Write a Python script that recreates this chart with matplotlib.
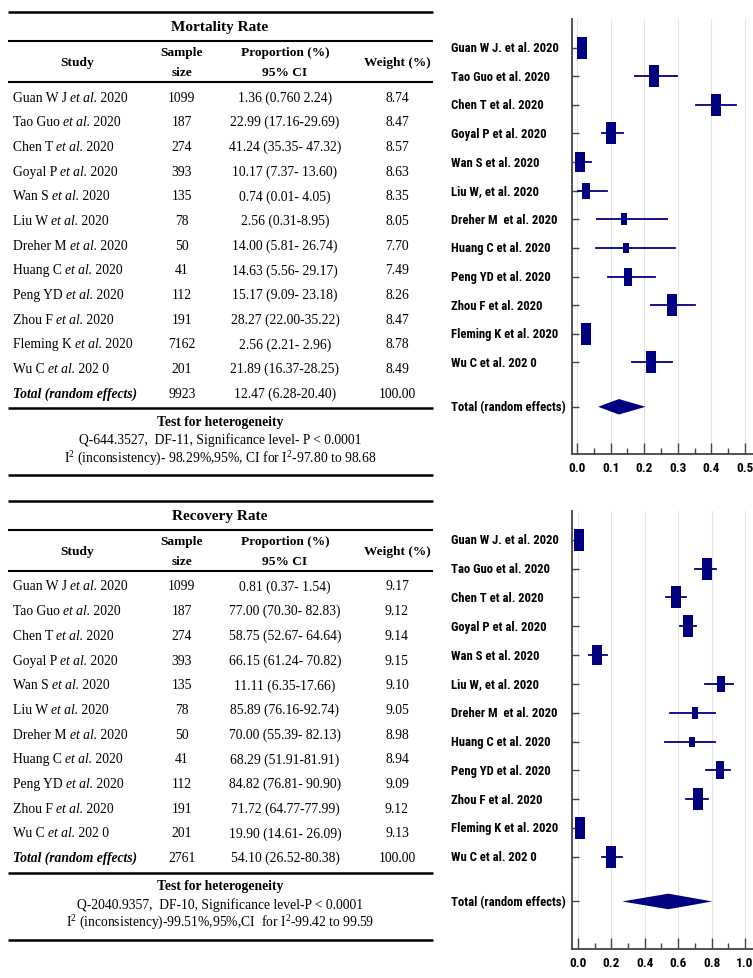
import matplotlib
matplotlib.use('Agg')
import matplotlib.pyplot as plt
import matplotlib.font_manager as fm
from matplotlib.path import Path
from matplotlib.ticker import MultipleLocator, FormatStrFormatter
import numpy as np

plt.rcParams['mathtext.fontset'] = 'custom'
plt.rcParams['mathtext.rm'] = 'Liberation Serif'
plt.rcParams['mathtext.it'] = 'Liberation Serif:italic'
plt.rcParams['mathtext.bf'] = 'Liberation Serif:bold'

SERIF = 'Liberation Serif'
NAVY = '#000080'
SPINE = '#444444'

# ---- study data ----
authors = ['Guan W J', 'Tao Guo', 'Chen T', 'Goyal P', 'Wan S', 'Liu W',
           'Dreher M', 'Huang C', 'Peng YD', 'Zhou F', 'Fleming K', 'Wu C']
years = ['2020'] * 11 + ['202 0']
plot_labels = ['Guan W J. et al. 2020', 'Tao Guo et al. 2020', 'Chen T et al. 2020',
               'Goyal P et al. 2020', 'Wan S et al. 2020', 'Liu W, et al. 2020',
               'Dreher M  et al. 2020', 'Huang C et al. 2020', 'Peng YD et al. 2020',
               'Zhou F et al. 2020', 'Fleming K et al. 2020', 'Wu C et al. 202 0']
total_label = 'Total (random effects)'

# mortality
mort_n = [1099, 187, 274, 393, 135, 78, 50, 41, 112, 191, 7162, 201]
mort_prop = [1.36, 22.99, 41.24, 10.17, 0.74, 2.56, 14.00, 14.63, 15.17, 28.27, 2.56, 21.89]
mort_lo = [0.760, 17.16, 35.35, 7.37, 0.01, 0.31, 5.81, 5.56, 9.09, 22.00, 2.21, 16.37]
mort_hi = [2.24, 29.69, 47.32, 13.60, 4.05, 8.95, 26.74, 29.17, 23.18, 35.22, 2.96, 28.25]
mort_ci_txt = ['1.36 (0.760 2.24)', '22.99 (17.16-29.69)', '41.24 (35.35- 47.32)',
               '10.17 (7.37- 13.60)', '0.74 (0.01- 4.05)', '2.56 (0.31-8.95)',
               '14.00 (5.81- 26.74)', '14.63 (5.56- 29.17)', '15.17 (9.09- 23.18)',
               '28.27 (22.00-35.22)', '2.56 (2.21- 2.96)', '21.89 (16.37-28.25)']
mort_weight = ['8.74', '8.47', '8.57', '8.63', '8.35', '8.05', '7.70', '7.49',
               '8.26', '8.47', '8.78', '8.49']
mort_total = (9923, 12.47, 6.28, 20.40, '12.47 (6.28-20.40)', '100.00')
mort_het = ['Q-644.3527,  DF-11, Significance level- P < 0.0001',
            r'I$^2$ (inconsistency)- 98.29%,95%, CI for I$^2$-97.80 to 98.68']

# recovery (Fleming K is only in the forest plot)
rec_n = [1099, 187, 274, 393, 135, 78, 50, 41, 112, 191, 201]
rec_prop = [0.81, 77.00, 58.75, 66.15, 11.11, 85.89, 70.00, 68.29, 84.82, 71.72, 19.90]
rec_lo = [0.37, 70.30, 52.67, 61.24, 6.35, 76.16, 55.39, 51.91, 76.81, 64.77, 14.61]
rec_hi = [1.54, 82.83, 64.64, 70.82, 17.66, 92.74, 82.13, 81.91, 90.90, 77.99, 26.09]
rec_ci_txt = ['0.81 (0.37- 1.54)', '77.00 (70.30- 82.83)', '58.75 (52.67- 64.64)',
              '66.15 (61.24- 70.82)', '11.11 (6.35-17.66)', '85.89 (76.16-92.74)',
              '70.00 (55.39- 82.13)', '68.29 (51.91-81.91)', '84.82 (76.81- 90.90)',
              '71.72 (64.77-77.99)', '19.90 (14.61- 26.09)']
rec_weight = ['9.17', '9.12', '9.14', '9.15', '9.10', '9.05', '8.98', '8.94',
              '9.09', '9.12', '9.13']
rec_total = (2761, 54.10, 26.52, 80.38, '54.10 (26.52-80.38)', '100.00')
rec_het = ['Q-2040.9357,  DF-10, Significance level-P < 0.0001',
           r'I$^2$ (inconsistency)-99.51%,95%,CI  for I$^2$-99.42 to 99.59']
# Fleming K point in recovery forest plot
rec_fleming = (7162, 0.9, 0.6, 1.2)


def narrow_bold():
    # pick a narrow bold sans for the forest plot labels
    names = {f.name for f in fm.fontManager.ttflist}
    for fam in ['Liberation Sans Narrow', 'Roboto Condensed', 'Open Sans Condensed']:
        if fam in names:
            return fm.FontProperties(family=fam, weight='bold')
    for f in fm.fontManager.ttflist:
        if f.fname.endswith('DejaVuSansCondensed-Bold.ttf'):
            return fm.FontProperties(fname=f.fname)
    return fm.FontProperties(family='Liberation Sans', weight='bold')


NARROW = narrow_bold()

fig = plt.figure(figsize=(7.53, 9.79), dpi=100)
renderer = fig.canvas.get_renderer()
tab = fig.add_axes([0, 0, 1, 1])
tab.set_xlim(0, 753)
tab.set_ylim(979, 0)
tab.axis('off')


def study_name(x, y, author, year, **kw):
    # "Author et al. year" with the et al. in italics, laid out piece by piece
    for part, style in [(author + ' ', 'normal'), ('et al.', 'italic'), (' ' + year, 'normal')]:
        t = tab.text(x, y, part, style=style, ha='left', **kw)
        bb = t.get_window_extent(renderer)
        x += bb.width  # one data unit == one pixel on this axes


def draw_table(y0, title, names, yrs, n, ci_txt, weight, total, het):
    x0, x1 = 8, 433
    rule = dict(color='black', solid_capstyle='butt')
    tab.plot([x0, x1], [y0, y0], lw=1.8, **rule)
    tab.text(220, y0 + 15, title, family=SERIF, weight='bold', fontsize=11,
             ha='center', va='center')
    tab.plot([x0, x1], [y0 + 29, y0 + 29], lw=1.5, **rule)
    hd = dict(family=SERIF, weight='bold', fontsize=9.6, ha='center', va='center')
    tab.text(77, y0 + 50, 'Study', **hd)
    tab.text(182, y0 + 40, 'Sample', **hd)
    tab.text(182, y0 + 60, 'size', **hd)
    tab.text(285, y0 + 40, 'Proportion (%)', **hd)
    tab.text(285, y0 + 60, '95% CI', **hd)
    tab.text(397, y0 + 50, 'Weight (%)', **hd)
    tab.plot([x0, x1], [y0 + 70, y0 + 70], lw=1.5, **rule)

    cell = dict(family=SERIF, fontsize=9.8, va='center')
    step = 24.7
    for i in range(len(names)):
        y = y0 + 85 + i * step
        study_name(13, y, names[i], yrs[i], **cell)
        tab.text(182, y, str(n[i]), ha='center', **cell)
        tab.text(285, y, ci_txt[i], ha='center', **cell)
        tab.text(397, y, weight[i], ha='center', **cell)
    y = y0 + 85 + len(names) * step
    tab.text(13, y, total_label, ha='left', weight='bold', style='italic', **cell)
    tab.text(182, y, str(total[0]), ha='center', **cell)
    tab.text(285, y, total[4], ha='center', **cell)
    tab.text(397, y, total[5], ha='center', **cell)

    tab.plot([x0, x1], [y + 15, y + 15], lw=1.8, **rule)
    tab.text(220, y + 28, 'Test for heterogeneity', family=SERIF, weight='bold',
             fontsize=9.8, ha='center', va='center')
    tab.text(220, y + 46, het[0], ha='center', **cell)
    tab.text(220, y + 64, het[1], ha='center', **cell)
    tab.plot([x0, x1], [y + 82, y + 82], lw=1.8, **rule)


draw_table(13, 'Mortality Rate', authors, years, mort_n, mort_ci_txt,
           mort_weight, mort_total, mort_het)
rec_authors = [a for a in authors if a != 'Fleming K']
rec_years = years[:10] + years[11:]
draw_table(502, 'Recovery Rate', rec_authors, rec_years, rec_n, rec_ci_txt,
           rec_weight, rec_total, rec_het)

# tall rectangle marker for the study boxes
box = Path([(-0.23, -0.5), (0.23, -0.5), (0.23, 0.5), (-0.23, 0.5), (-0.23, -0.5)],
           [Path.MOVETO, Path.LINETO, Path.LINETO, Path.LINETO, Path.CLOSEPOLY])


def forest(rect, labels, n, prop, lo, hi, total, xlim, major):
    ax = fig.add_axes(rect)
    p = np.array(prop) / 100
    l = np.array(lo) / 100
    h = np.array(hi) / 100
    rows = np.arange(len(labels))
    for yi, pi, li, hi_, ni in zip(rows, p, l, h, n):
        ax.plot([li, hi_], [yi, yi], color=NAVY, lw=1.3, zorder=3)
        size = 22 * (1 - np.exp(-ni / 60))
        ax.plot(pi, yi, marker=box, ms=size * 0.72, color=NAVY, mec=NAVY,
                mew=0, zorder=4)
    ty = len(labels) + 0.55
    tp, tl, th = total[1] / 100, total[2] / 100, total[3] / 100
    ax.fill([tl, tp, th, tp], [ty, ty - 0.27, ty, ty + 0.27], color=NAVY,
            lw=0, zorder=4)

    ax.set_xlim(*xlim)
    ax.set_ylim(len(labels) + 2.2, -1.0)
    ax.set_yticks(list(rows) + [ty])
    ax.tick_params(axis='y', direction='in', length=5, width=1, color=SPINE,
                   labelleft=False)
    ax.xaxis.set_major_locator(MultipleLocator(major))
    ax.xaxis.set_minor_locator(MultipleLocator(major / 2))
    ax.tick_params(axis='x', which='major', direction='in', length=8, width=1,
                   color=SPINE, pad=5)
    ax.tick_params(axis='x', which='minor', direction='in', length=4, width=1,
                   color=SPINE)
    ax.xaxis.set_major_formatter(FormatStrFormatter('%.1f'))
    ax.grid(axis='x', which='major', color='#e4e4e4', lw=0.8, zorder=0)
    for s in ['top', 'right']:
        ax.spines[s].set_visible(False)
    for s in ['left', 'bottom']:
        ax.spines[s].set_color(SPINE)
        ax.spines[s].set_linewidth(1.3)
    for t in ax.get_xticklabels():
        t.set_fontproperties(NARROW)
        t.set_fontsize(9.5)

    tr = ax.get_yaxis_transform()
    texts = []
    for yi, lab in zip(list(rows) + [ty], labels + [total_label]):
        texts.append(ax.text(-0.668, yi, lab, transform=tr, fontproperties=NARROW,
                             fontsize=10, ha='left', va='center'))
    # scale the labels so the longest one ends just short of the axis
    k = 114 / texts[-1].get_window_extent(renderer).width
    for t in texts:
        t.set_fontsize(10 * k)
    return ax


forest([572 / 753, 1 - 455 / 979, 181 / 753, 435 / 979], plot_labels,
       mort_n, mort_prop, mort_lo, mort_hi, mort_total, (-0.015, 0.524), 0.1)

rec_plot_n = rec_n[:10] + [rec_fleming[0]] + rec_n[10:]
rec_plot_prop = rec_prop[:10] + [rec_fleming[1]] + rec_prop[10:]
rec_plot_lo = rec_lo[:10] + [rec_fleming[2]] + rec_lo[10:]
rec_plot_hi = rec_hi[:10] + [rec_fleming[3]] + rec_hi[10:]
forest([572 / 753, 1 - 950 / 979, 181 / 753, 438 / 979], plot_labels,
       rec_plot_n, rec_plot_prop, rec_plot_lo, rec_plot_hi, rec_total,
       (-0.036, 1.048), 0.2)

fig.savefig('out.png', dpi=100, facecolor='white')
